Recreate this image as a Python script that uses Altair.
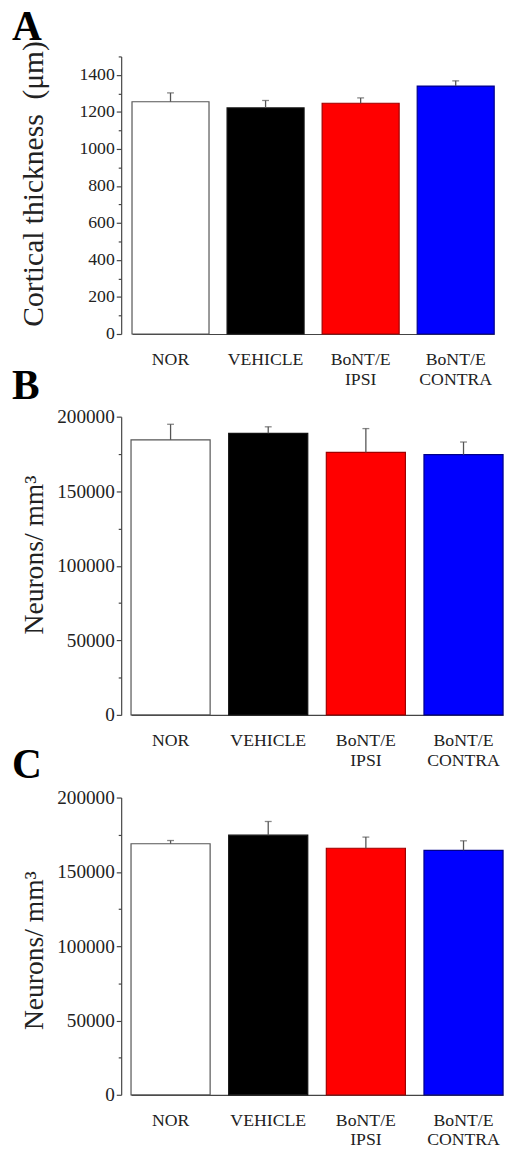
import altair as alt
import pandas as pd

categories = ["NOR", "VEHICLE", "BoNT/E\nIPSI", "BoNT/E\nCONTRA"]
fills = ["#ffffff", "#000000", "#ff0000", "#0000ff"]
strokes = ["#555555", "#111111", "#a00000", "#00008b"]

# Panel A: cortical thickness (um)
a_mean = [1255, 1222, 1247, 1340]
a_err = [48, 40, 29, 28]
# Panel B: neurons / mm3
b_mean = [184400, 188800, 176000, 174500]
b_err = [10500, 4400, 16000, 8500]
# Panel C: neurons / mm3
c_mean = [168900, 174700, 165900, 164500]
c_err = [2200, 9200, 7500, 6400]

a_ticks = list(range(0, 1501, 100))
bc_ticks = list(range(0, 200001, 25000))

FONT = "Liberation Serif"
AXC = "#444444"


def panel(letter, means, errs, ymax, ticks, major, ytitle, title_size, title_y,
          width, height, xrange, pin, ylab_size, letter_offset):
    df = pd.DataFrame({
        "cat": categories,
        "mean": means,
        "upper": [m + e for m, e in zip(means, errs)],
        "fill": fills,
        "stroke": strokes,
    })
    xaxis = alt.Axis(title=None, labelAngle=0, ticks=False,
                     labelExpr="split(datum.label, '\\n')",
                     labelFontSize=18, labelLineHeight=20, labelPadding=17,
                     labelColor="#222222", domainColor=AXC, domainWidth=1.2,
                     labelFont=FONT)
    xscale = alt.Scale(range=xrange, paddingInner=pin, paddingOuter=0)
    yaxis = alt.Axis(
        title=ytitle, values=ticks, format="d",
        labelExpr=f"datum.value % {major} === 0 ? datum.label : ''",
        tickSize={"condition": {"test": f"datum.value % {major} !== 0", "value": 3}, "value": 5},
        grid=False, domainColor=AXC, tickColor=AXC, domainWidth=1.2,
        tickWidth=1.2, labelFontSize=ylab_size, labelPadding=2,
        labelColor="#222222", labelFont=FONT,
        titleFont=FONT, titleFontSize=title_size, titleFontWeight="normal",
        titleColor="#222222", titleX=-74, titleY=title_y,
        titleAlign="center", titleBaseline="bottom", titleAngle=270,
    )
    yscale = alt.Scale(domain=[0, ymax], nice=False, zero=True)
    bars = alt.Chart(df).mark_bar(strokeWidth=1.2).encode(
        x=alt.X("cat:N", sort=categories, scale=xscale, axis=xaxis),
        y=alt.Y("mean:Q", scale=yscale, axis=yaxis),
        fill=alt.Fill("fill:N", scale=None),
        stroke=alt.Stroke("stroke:N", scale=None),
    )
    rule = alt.Chart(df).mark_rule(color="#555555", strokeWidth=1.3).encode(
        x=alt.X("cat:N", sort=categories, scale=xscale, axis=xaxis),
        y=alt.Y("mean:Q", scale=yscale, axis=yaxis),
        y2="upper:Q",
    )
    cap = alt.Chart(df).mark_tick(color="#555555", thickness=1.3, size=7).encode(
        x=alt.X("cat:N", sort=categories, scale=xscale, axis=xaxis),
        y=alt.Y("upper:Q", scale=yscale, axis=yaxis),
    )
    return alt.layer(bars, rule, cap).properties(
        width=width, height=height,
        title=alt.TitleParams(letter, anchor="start", frame="group", dx=-111,
                              fontSize=42, fontWeight="bold", font=FONT,
                              color="#000000", offset=letter_offset,
                              baseline="alphabetic"),
    )


pa = panel("A", a_mean, a_err, 1500, a_ticks, 200,
           "Cortical thickness\u00a0 (\u03bcm)", 30, 129, 389, 282,
           [11, 379], 0.19, 18, -41)
pb = panel("B", b_mean, b_err, 200000, bc_ticks, 50000,
           "Neurons/ mm\u00b3", 28, 140, 392, 303,
           [10, 388], 0.19, 19.5, -34)
pc = panel("C", c_mean, c_err, 200000, bc_ticks, 50000,
           "Neurons/ mm\u00b3", 28, 155, 392, 302,
           [10, 388], 0.19, 19.5, -32)

chart = alt.vconcat(pa, pb, pc, spacing=84, bounds="flush").configure(
    font=FONT,
    padding={"left": 4, "top": -12, "right": 0, "bottom": 0},
).configure_view(stroke=None)

chart.save("out.html", embed_options={"renderer": "svg", "actions": False})
